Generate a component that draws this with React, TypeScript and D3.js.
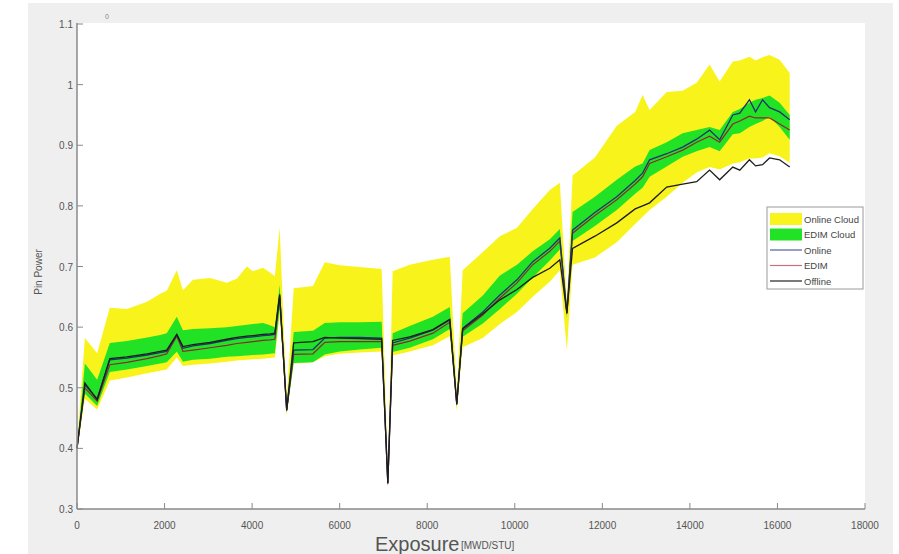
import React from "react";
import * as d3 from "d3";

const exposure = [0, 180, 460, 750, 1140, 1600, 1900, 2050, 2280, 2420, 2650, 3040, 3420, 3650, 3880, 4020, 4250, 4410, 4520, 4630, 4790, 4950, 5390, 5660, 6000, 6460, 6960, 7100, 7210, 7600, 8130, 8515, 8675, 8810, 9270, 9660, 10050, 10410, 10800, 11030, 11190, 11320, 11830, 12330, 12750, 12920, 13080, 13470, 13835, 14155, 14450, 14680, 14980, 15140, 15360, 15500, 15660, 15820, 16050, 16280];

const onlineCloudHigh = [0.405, 0.582, 0.557, 0.632, 0.630, 0.642, 0.655, 0.660, 0.694, 0.661, 0.678, 0.681, 0.673, 0.680, 0.700, 0.692, 0.698, 0.690, 0.684, 0.764, 0.480, 0.664, 0.668, 0.707, 0.702, 0.699, 0.696, 0.360, 0.692, 0.703, 0.711, 0.716, 0.490, 0.694, 0.724, 0.750, 0.764, 0.795, 0.826, 0.838, 0.640, 0.850, 0.880, 0.932, 0.955, 0.983, 0.958, 0.988, 0.990, 1.003, 1.033, 1.005, 1.038, 1.040, 1.046, 1.040, 1.045, 1.049, 1.041, 1.019];
const onlineCloudLow = [0.395, 0.482, 0.464, 0.512, 0.517, 0.524, 0.528, 0.530, 0.550, 0.536, 0.538, 0.540, 0.543, 0.545, 0.546, 0.547, 0.548, 0.549, 0.550, 0.620, 0.455, 0.540, 0.542, 0.552, 0.556, 0.558, 0.560, 0.335, 0.553, 0.560, 0.570, 0.585, 0.462, 0.567, 0.582, 0.605, 0.625, 0.650, 0.675, 0.694, 0.562, 0.703, 0.715, 0.740, 0.770, 0.782, 0.793, 0.815, 0.838, 0.855, 0.864, 0.860, 0.870, 0.872, 0.878, 0.878, 0.880, 0.887, 0.882, 0.871];
const edimCloudHigh = [0.403, 0.540, 0.513, 0.574, 0.577, 0.583, 0.587, 0.590, 0.617, 0.595, 0.597, 0.598, 0.600, 0.602, 0.604, 0.605, 0.607, 0.603, 0.600, 0.670, 0.472, 0.592, 0.594, 0.607, 0.608, 0.608, 0.609, 0.350, 0.590, 0.602, 0.617, 0.633, 0.480, 0.623, 0.652, 0.685, 0.703, 0.725, 0.745, 0.762, 0.632, 0.790, 0.815, 0.843, 0.865, 0.870, 0.892, 0.905, 0.920, 0.925, 0.930, 0.925, 0.955, 0.960, 0.970, 0.975, 0.978, 0.982, 0.970, 0.950];
const edimCloudLow = [0.397, 0.490, 0.470, 0.526, 0.530, 0.536, 0.540, 0.542, 0.560, 0.543, 0.546, 0.548, 0.551, 0.552, 0.553, 0.554, 0.555, 0.556, 0.557, 0.630, 0.458, 0.541, 0.542, 0.555, 0.560, 0.563, 0.566, 0.338, 0.559, 0.566, 0.580, 0.597, 0.468, 0.584, 0.606, 0.630, 0.655, 0.682, 0.710, 0.728, 0.615, 0.742, 0.767, 0.793, 0.820, 0.830, 0.848, 0.865, 0.881, 0.890, 0.897, 0.890, 0.918, 0.920, 0.930, 0.935, 0.940, 0.947, 0.930, 0.909];
const online = [0.400, 0.505, 0.482, 0.546, 0.549, 0.554, 0.558, 0.560, 0.587, 0.565, 0.569, 0.573, 0.578, 0.581, 0.583, 0.584, 0.586, 0.587, 0.588, 0.652, 0.464, 0.562, 0.563, 0.582, 0.583, 0.583, 0.582, 0.343, 0.574, 0.582, 0.595, 0.612, 0.474, 0.598, 0.625, 0.653, 0.678, 0.708, 0.730, 0.747, 0.624, 0.760, 0.789, 0.815, 0.842, 0.854, 0.876, 0.886, 0.897, 0.910, 0.925, 0.909, 0.950, 0.953, 0.975, 0.955, 0.975, 0.962, 0.955, 0.942];
const edim = [0.400, 0.500, 0.478, 0.538, 0.542, 0.548, 0.553, 0.556, 0.585, 0.560, 0.562, 0.566, 0.570, 0.573, 0.575, 0.576, 0.578, 0.579, 0.580, 0.650, 0.462, 0.555, 0.556, 0.575, 0.576, 0.576, 0.576, 0.341, 0.570, 0.577, 0.590, 0.608, 0.472, 0.594, 0.620, 0.648, 0.673, 0.703, 0.725, 0.742, 0.622, 0.755, 0.784, 0.810, 0.836, 0.848, 0.870, 0.881, 0.892, 0.905, 0.915, 0.905, 0.935, 0.940, 0.948, 0.945, 0.945, 0.945, 0.935, 0.925];
const offline = [0.400, 0.508, 0.480, 0.548, 0.551, 0.556, 0.560, 0.562, 0.588, 0.568, 0.571, 0.575, 0.580, 0.583, 0.585, 0.586, 0.588, 0.589, 0.590, 0.654, 0.463, 0.574, 0.576, 0.583, 0.582, 0.581, 0.580, 0.343, 0.578, 0.584, 0.596, 0.613, 0.473, 0.597, 0.622, 0.645, 0.662, 0.682, 0.697, 0.711, 0.623, 0.730, 0.750, 0.772, 0.795, 0.800, 0.805, 0.831, 0.836, 0.840, 0.859, 0.843, 0.864, 0.859, 0.876, 0.866, 0.868, 0.879, 0.876, 0.864];

const xTicks = [0, 2000, 4000, 6000, 8000, 10000, 12000, 14000, 16000, 18000];
const yTicks = [0.3, 0.4, 0.5, 0.6, 0.7, 0.8, 0.9, 1, 1.1];
const legendItems = ["Online Cloud", "EDIM Cloud", "Online", "EDIM", "Offline"];

const YELLOW = "#f9f31e";
const GREEN = "#22e226";
const C_ONLINE = "#24306e";
const C_EDIM = "#8a2c2c";
const C_OFFLINE = "#1c1c1c";

export default function App() {
  const x = d3.scaleLinear().domain([0, 18000]).range([77, 865]);
  const y = d3.scaleLinear().domain([0.3, 1.1]).range([509, 24]);
  const idx = exposure.map((_, i) => i);

  const band = (hi: number[], lo: number[]) =>
    d3.area<number>().x((i) => x(exposure[i])).y0((i) => y(lo[i])).y1((i) => y(hi[i]))(idx) || "";
  const line = (v: number[]) =>
    d3.line<number>().x((i) => x(exposure[i])).y((i) => y(v[i]))(idx) || "";

  const fmtY = (v: number) => (v === 1 ? "1" : d3.format(".1f")(v));
  const axisColor = "#8a8a8a";
  const textColor = "#555";
  const font = "Liberation Sans, Arial, sans-serif";

  const legendColors = [YELLOW, GREEN, "#4f61a0", "#c8707c", "#222"];

  return (
    <div style={{ position: "absolute", left: 0, top: 0 }}>
      <svg width={899} height={554} style={{ display: "block" }} fontFamily={font}>
        <defs>
          <filter id="soft" x="-5%" y="-5%" width="110%" height="110%">
            <feGaussianBlur stdDeviation="0.7" />
          </filter>
        </defs>
        <rect x={0} y={0} width={899} height={554} fill="#ffffff" />
        <rect x={28} y={3} width={865} height={551} fill="#efefef" />
        <rect x={77} y={23} width={788} height={486} fill="#ffffff" />

        <g filter="url(#soft)">
          <path d={band(onlineCloudHigh, onlineCloudLow)} fill={YELLOW} />
          <path d={band(edimCloudHigh, edimCloudLow)} fill={GREEN} />
          <path d={line(edim)} fill="none" stroke={C_EDIM} strokeWidth={1.2} />
          <path d={line(online)} fill="none" stroke={C_ONLINE} strokeWidth={1.3} />
          <path d={line(offline)} fill="none" stroke={C_OFFLINE} strokeWidth={1.3} />
        </g>

        {/* axes */}
        <line x1={77} y1={509} x2={865} y2={509} stroke={axisColor} strokeWidth={1.5} />
        <line x1={77} y1={509} x2={77} y2={23} stroke={axisColor} strokeWidth={1.5} />
        {xTicks.map((t) => (
          <g key={"x" + t}>
            <line x1={x(t)} x2={x(t)} y1={509} y2={503} stroke={axisColor} strokeWidth={1} />
            <text x={x(t)} y={529} textAnchor="middle" fontSize={10} fill={textColor}>
              {t}
            </text>
          </g>
        ))}
        {yTicks.map((t) => (
          <g key={"y" + t}>
            <line x1={77} x2={83} y1={y(t)} y2={y(t)} stroke={axisColor} strokeWidth={1} />
            <text x={73} y={y(t) + 4} textAnchor="end" fontSize={10} fill={textColor}>
              {fmtY(t)}
            </text>
          </g>
        ))}
        <text x={107} y={19} fontSize={7} fill="#888" textAnchor="middle">0</text>

        <text x={375} y={551} fontSize={20} fill={textColor}>Exposure</text>
        <text x={461} y={549} fontSize={10} fill={textColor}>[MWD/STU]</text>
        <text transform="translate(42,272) rotate(-90)" textAnchor="middle" fontSize={10} fill={textColor}>
          Pin Power
        </text>

        {/* legend */}
        <rect x={767} y={207} width={96} height={82} fill="#fff" stroke="#9a9a9a" strokeWidth={1} />
        {legendItems.map((name, i) => {
          const cy = 219 + i * 15.5;
          return (
            <g key={name}>
              {i < 2 ? (
                <rect x={770} y={cy - 6} width={32} height={12} fill={legendColors[i]} />
              ) : (
                <line x1={770} x2={802} y1={cy} y2={cy} stroke={legendColors[i]} strokeWidth={1.2} />
              )}
              <text x={804} y={cy + 3.5} fontSize={9.5} fill="#444">
                {name}
              </text>
            </g>
          );
        })}
      </svg>
    </div>
  );
}
